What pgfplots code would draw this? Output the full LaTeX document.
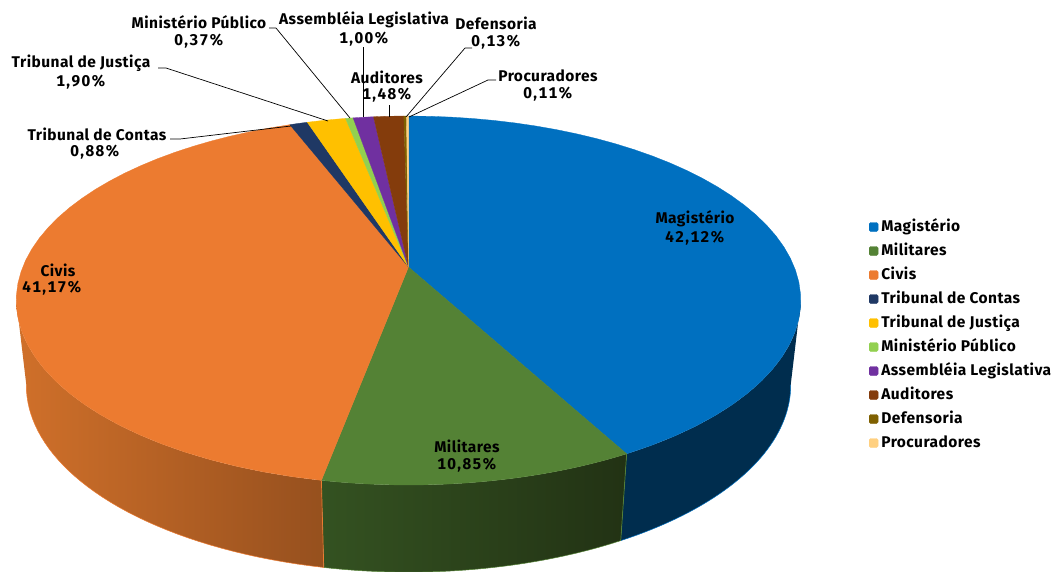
\documentclass[border=0pt]{standalone}
\usepackage{fontspec}
\setmainfont[LetterSpace=3]{Fira Sans}
\newfontfamily\numf[LetterSpace=9,Numbers=Monospaced]{Fira Sans}
\usepackage{pgfplots}
\pgfplotsset{compat=1.18}

\definecolor{cMag}{RGB}{0,112,192}
\definecolor{cMil}{RGB}{84,130,53}
\definecolor{cCiv}{RGB}{236,123,48}
\definecolor{cTdc}{RGB}{31,56,100}
\definecolor{cTdj}{RGB}{255,192,0}
\definecolor{cMin}{RGB}{146,208,80}
\definecolor{cAss}{RGB}{112,48,160}
\definecolor{cAud}{RGB}{132,60,12}
\definecolor{cDef}{RGB}{127,96,0}
\definecolor{cPro}{RGB}{255,208,128}
\definecolor{sMag}{RGB}{0,45,78}
\definecolor{sMilA}{RGB}{52,82,33}
\definecolor{sMilB}{RGB}{34,50,20}
\definecolor{sCivA}{RGB}{208,112,42}
\definecolor{sCivB}{RGB}{150,80,30}

% name / share in percent / top colour / side colours
\def\slices{Magistério/42.12/cMag/sMag/sMag,
  Militares/10.85/cMil/sMilA/sMilB,
  Civis/41.17/cCiv/sCivA/sCivB,
  Tribunal de Contas/0.88/cTdc/cTdc/cTdc,
  Tribunal de Justiça/1.90/cTdj/cTdj/cTdj,
  Ministério Público/0.37/cMin/cMin/cMin,
  Assembléia Legislativa/1.00/cAss/cAss/cAss,
  Auditores/1.48/cAud/cAud/cAud,
  Defensoria/0.13/cDef/cDef/cDef,
  Procuradores/0.11/cPro/cPro/cPro}

\def\arcN{40}

% append the rim point at angle #1 (clockwise from the top); #2..#5 = a, y0, b, k
\newcommand\rimpt[5]{%
  \pgfmathsetmacro\pu{sin(#1)}%
  \pgfmathsetmacro\pv{cos(#1)}%
  \pgfmathsetmacro\pd{1+#5*\pv}%
  \pgfmathsetmacro\px{408.5+#2*\pu/\pd}%
  \pgfmathsetmacro\py{#3-#4*\pv/\pd}%
  \xdef\pts{\pts (\px,\py)}}
\newcommand\arcpts[6]{%
  \foreach \i in {0,...,\arcN}{%
    \pgfmathsetmacro\ang{#1+(#2-(#1))*\i/\arcN}%
    \rimpt{\ang}{#3}{#4}{#5}{#6}}}
% the pie's two faces, seen in perspective
\newcommand\toppt[1]{\rimpt{#1}{385.8}{267}{178.4}{0.1816}}
\newcommand\botpt[1]{\rimpt{#1}{376}{351.4}{181}{0.18}}
\newcommand\toparc[2]{\arcpts{#1}{#2}{385.8}{267}{178.4}{0.1816}}
\newcommand\botarc[2]{\arcpts{#1}{#2}{376}{351.4}{181}{0.18}}

\def\lblfont{\fontsize{15.5}{17}\selectfont\bfseries}
\newcommand\lbl[3]{\node[font=\lblfont,inner sep=0pt,anchor=center] at (axis cs:#1,#2) {#3};}
\newcommand\pct[3]{\node[font={\numf\lblfont},inner sep=0pt,anchor=center] at (axis cs:#1,#2) {#3};}

\begin{document}
\begin{tikzpicture}
\useasboundingbox (0,0) rectangle (1052pt,571pt);
\begin{axis}[
    hide axis,
    scale only axis,
    width=1052pt, height=571pt,
    xmin=0, xmax=1052, ymin=0, ymax=571,
    y dir=reverse,
    clip=false,
    legend cell align=left,
    legend image code/.code={\path (0pt,0pt) (12pt,0pt);\fill[#1,rounded corners=1.5pt] (0pt,-4.5pt) rectangle (9pt,4.5pt);},
    legend style={at={(axis cs:869,215)}, anchor=north west, draw=none, fill=none,
      inner sep=0pt, outer sep=0pt, font=\lblfont, row sep=0pt,
      nodes={inner sep=0pt, minimum height=24pt, text height=11pt, text depth=3pt}},
  ]
  % sides: only the part between the two silhouette angles is seen
  \xdef\cum{0}
  \foreach \nm/\share/\col/\sideA/\sideB in \slices {
    \pgfmathsetmacro\angA{3.6*\cum}
    \pgfmathsetmacro\angB{3.6*(\cum+\share)}
    \pgfmathsetmacro\tA{max(\angA,100.3)}
    \pgfmathsetmacro\tB{min(\angB,259.7)}
    \pgfmathparse{\tA<\tB ? 1 : 0}
    \ifdim\pgfmathresult pt>0.5pt
      \xdef\pts{}
      \toparc{\tA}{\tB}
      \botarc{\tB}{\tA}
      \edef\tmp{\noexpand\addplot[left color=\sideA,right color=\sideB,draw=none,forget plot] coordinates {\pts};}
      \tmp
      \xdef\pts{}
      \botarc{\tA}{\tB}
      \edef\tmp{\noexpand\addplot[\col,line width=0.5pt,forget plot] coordinates {\pts};}
      \tmp
    \fi
    \pgfmathsetmacro\newcum{\cum+\share}
    \xdef\cum{\newcum}
  }
  % seams between the sides
  \xdef\cum{0}
  \foreach \nm/\share/\col/\sideA/\sideB in \slices {
    \pgfmathsetmacro\newcum{\cum+\share}
    \pgfmathsetmacro\angB{3.6*\newcum}
    \pgfmathparse{\angB<259.7 ? 1 : 0}
    \ifdim\pgfmathresult pt>0.5pt
      \xdef\pts{}
      \toppt{\angB}
      \botpt{\angB}
      \pgfmathparse{\angB<180 ? 1 : 0}
      \ifdim\pgfmathresult pt>0.5pt \def\seam{cMil}\else\def\seam{cCiv}\fi
      \edef\tmp{\noexpand\addplot[\seam,line width=0.7pt,forget plot] coordinates {\pts};}
      \tmp
    \fi
    \xdef\cum{\newcum}
  }
  % top face
  \xdef\cum{0}
  \foreach \nm/\share/\col/\sideA/\sideB in \slices {
    \pgfmathsetmacro\angA{3.6*\cum}
    \pgfmathsetmacro\newcum{\cum+\share}
    \pgfmathsetmacro\angB{3.6*\newcum}
    \xdef\pts{(408.5,267)}
    \toparc{\angA}{\angB}
    \edef\tmp{\noexpand\addplot[fill=\col,draw=\col,line width=0.3pt] coordinates {\pts (408.5,267)};
      \noexpand\addlegendentry{\nm}}
    \tmp
    \xdef\cum{\newcum}
  }
  % leader lines
  \addplot[black,line width=0.7pt,forget plot] coordinates {(170,139) (180,139) (291,126)};
  \addplot[black,line width=0.7pt,forget plot] coordinates {(158,68) (166,68) (328,121)};
  \addplot[black,line width=0.7pt,forget plot] coordinates {(269,28) (276,28) (350,118)};
  \addplot[black,line width=0.7pt,forget plot] coordinates {(363,47) (363,117)};
  \addplot[black,line width=0.7pt,forget plot] coordinates {(389,105) (389,117)};
  \addplot[black,line width=0.7pt,forget plot] coordinates {(472,48) (465,48) (406,117)};
  \addplot[black,line width=0.7pt,forget plot] coordinates {(496,80) (488,80) (409,117)};
  % labels
  \lbl{695}{219}{Magistério}
  \pct{695}{238}{42,12\%}
  \lbl{467}{446}{Militares}
  \pct{467}{465}{10,85\%}
  \lbl{58}{270}{Civis}
  \pct{52}{288}{41,17\%}
  \lbl{97}{134}{Tribunal de Contas}
  \pct{95}{152}{0,88\%}
  \lbl{81}{63}{Tribunal de Justiça}
  \pct{81}{82}{1,90\%}
  \lbl{199}{22}{Ministério Público}
  \pct{199}{41}{0,37\%}
  \lbl{364}{20}{Assembléia Legislativa}
  \pct{364}{39}{1,00\%}
  \lbl{496}{23}{Defensoria}
  \pct{496}{42}{0,13\%}
  \lbl{387}{77}{Auditores}
  \pct{387}{95}{1,48\%}
  \lbl{548}{76}{Procuradores}
  \pct{548}{94}{0,11\%}
\end{axis}
\end{tikzpicture}
\end{document}
